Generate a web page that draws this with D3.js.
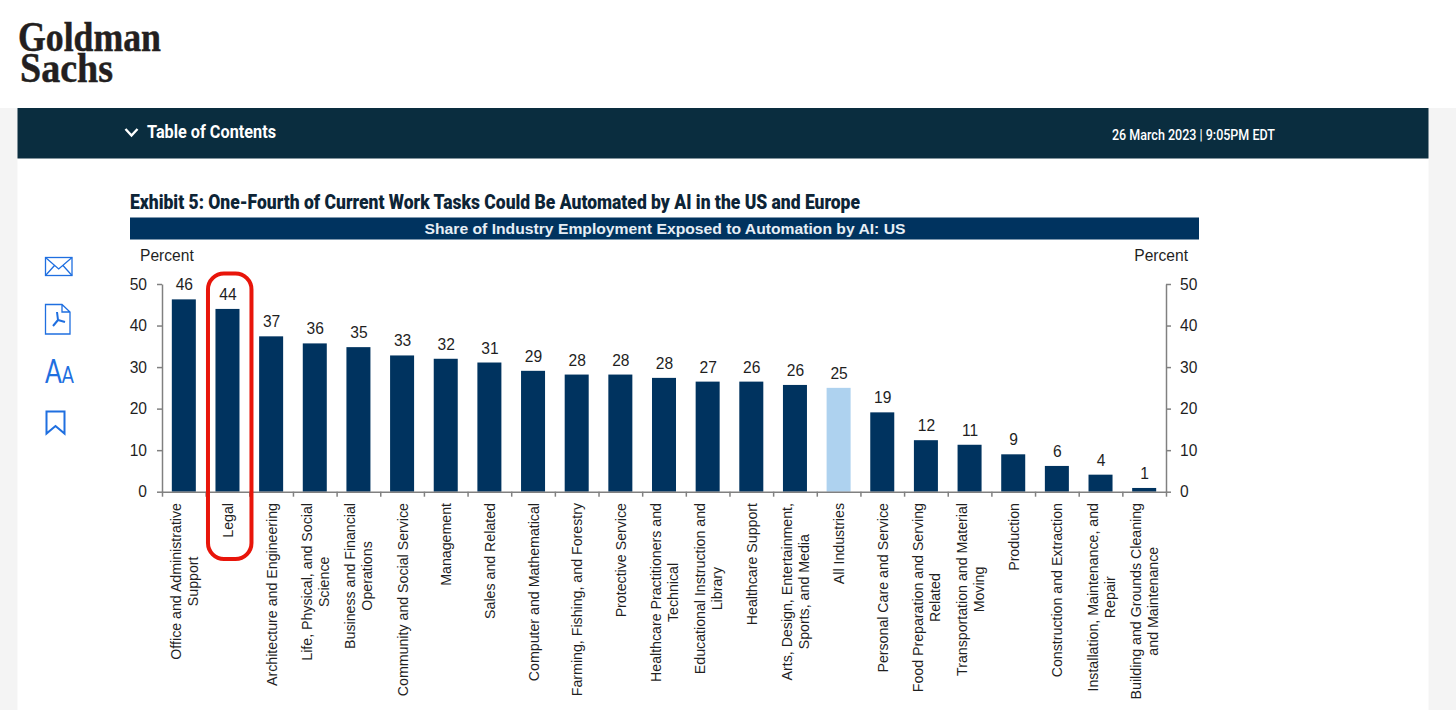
<!DOCTYPE html>
<html>
<head>
<meta charset="utf-8">
<title>Exhibit 5</title>
<script src="https://cdn.jsdelivr.net/npm/d3@7"></script>
<style>
    html, body { margin: 0; padding: 0; background: #fff; overflow: hidden; }
    svg { display: block; }
    text { font-family: "Liberation Sans", Arial, sans-serif; fill: #1f1f1f; }
    .page-text { font-family: Roboto, "Noto Sans", sans-serif; }
</style>
</head>
<body>
<div id="chart"></div>
<script>
// 1: DATA, "|" marks a line break in a label
const categories = [
    "Office and Administrative|Support", "Legal", "Architecture and Engineering",
    "Life, Physical, and Social|Science", "Business and Financial|Operations",
    "Community and Social Service", "Management", "Sales and Related",
    "Computer and Mathematical", "Farming, Fishing, and Forestry", "Protective Service",
    "Healthcare Practitioners and|Technical", "Educational Instruction and|Library",
    "Healthcare Support", "Arts, Design, Entertainment,|Sports, and Media", "All Industries",
    "Personal Care and Service", "Food Preparation and Serving|Related",
    "Transportation and Material|Moving", "Production", "Construction and Extraction",
    "Installation, Maintenance, and|Repair", "Building and Grounds Cleaning|and Maintenance"
];
const values = [46.3, 44.0, 37.4, 35.7, 34.8, 32.8, 32.0, 31.1, 29.1, 28.2, 28.2, 27.4,
    26.5, 26.5, 25.7, 25.0, 19.1, 12.4, 11.3, 9.0, 6.2, 4.1, 0.9];
const valueLabels = [46, 44, 37, 36, 35, 33, 32, 31, 29, 28, 28, 28, 27, 26, 26, 25, 19, 12, 11, 9, 6, 4, 1];
const yTicks = [0, 10, 20, 30, 40, 50];
const highlighted = "All Industries";
const circled = "Legal";

// 2: SVG AND PAGE FURNITURE
const svg = d3.select("#chart").append("svg").attr("width", 1456).attr("height", 710);

svg.append("rect").attr("x", 0).attr("y", 108).attr("width", 1456).attr("height", 602).attr("fill", "#f4f4f4");
svg.append("rect").attr("x", 17.5).attr("y", 158).attr("width", 1411).attr("height", 552).attr("fill", "#fff");
svg.append("rect").attr("x", 17.5).attr("y", 108).attr("width", 1411).attr("height", 50.5).attr("fill", "#0a2d3f");

// logo
svg.append("text").attr("x", 18).attr("y", 51)
    .attr("textLength", 143).attr("lengthAdjust", "spacingAndGlyphs")
    .style("font-family", "'Liberation Serif', serif").style("font-weight", "bold")
    .style("font-size", "42px").style("fill", "#231f20")
    .style("stroke", "#231f20").style("stroke-width", 0.5).text("Goldman");
svg.append("text").attr("x", 20).attr("y", 82)
    .attr("textLength", 93).attr("lengthAdjust", "spacingAndGlyphs")
    .style("font-family", "'Liberation Serif', serif").style("font-weight", "bold")
    .style("font-size", "42px").style("fill", "#231f20")
    .style("stroke", "#231f20").style("stroke-width", 0.5).text("Sachs");

// contents bar
svg.append("path").attr("d", "M125.5,129 L131.5,135.5 L137.5,129")
    .attr("fill", "none").attr("stroke", "#fff").attr("stroke-width", 2.4);
svg.append("text").attr("class", "page-text").attr("x", 147).attr("y", 137.5)
    .attr("textLength", 129).attr("lengthAdjust", "spacingAndGlyphs")
    .style("font-size", "18.5px").style("font-weight", "bold").style("fill", "#fff").text("Table of Contents");
svg.append("text").attr("class", "page-text").attr("x", 1112).attr("y", 139.5)
    .attr("textLength", 163).attr("lengthAdjust", "spacingAndGlyphs")
    .style("font-size", "15.5px").style("font-weight", 500).style("fill", "#fff").text("26 March 2023 | 9:05PM EDT");

// exhibit title and banner
svg.append("text").attr("class", "page-text").attr("x", 130).attr("y", 209)
    .attr("textLength", 730).attr("lengthAdjust", "spacingAndGlyphs")
    .style("font-size", "20px").style("font-weight", 900).style("fill", "#0d2436")
    .text("Exhibit 5: One-Fourth of Current Work Tasks Could Be Automated by AI in the US and Europe");
svg.append("rect").attr("x", 130).attr("y", 217.5).attr("width", 1069).attr("height", 22).attr("fill", "#00335f");
svg.append("text").attr("x", 424.5).attr("y", 234)
    .attr("textLength", 481).attr("lengthAdjust", "spacingAndGlyphs")
    .style("font-size", "15.5px").style("font-weight", "bold").style("fill", "#e6eef5")
    .text("Share of Industry Employment Exposed to Automation by AI: US");

// side icons
const iconBlue = "#1f6fe0";
const icons = svg.append("g").attr("fill", "none").attr("stroke", iconBlue).attr("stroke-width", 1.3);
icons.append("rect").attr("x", 45.5).attr("y", 257.5).attr("width", 26.5).attr("height", 18);
icons.append("path").attr("d", "M45.5,257.5 L58.7,269 L72,257.5 M45.5,275.5 L54.5,265.5 M72,275.5 L63,265.5");
icons.append("path").attr("d", "M45.5,304.5 H62 L70,312 V334 H45.5 Z M62,304.5 V312 H70");
icons.append("path").attr("d", "M57,312 L58,320 M58,320 L53,326 M58,320 L65,322").attr("stroke-width", 2);
icons.append("path").attr("d", "M46.5,411.5 H64.5 V433.5 L55.5,426 L46.5,433.5 Z").attr("stroke-width", 2);
const aaIcon = svg.append("text").attr("x", 45).attr("y", 383)
    .attr("textLength", 29).attr("lengthAdjust", "spacingAndGlyphs")
    .style("font-family", "Lato, sans-serif").style("font-weight", 400)
    .style("fill", iconBlue);
aaIcon.append("tspan").style("font-size", "32px").style("fill", iconBlue).text("A");
aaIcon.append("tspan").style("font-size", "23px").style("fill", iconBlue).text("A");

// 3: SCALES
const plot = { left: 162, right: 1166, top: 284, bottom: 491.7 };
const xScale = d3.scaleBand().domain(categories).range([plot.left, plot.right]).paddingInner(0.45).paddingOuter(0.225);
const xEdges = d3.scaleLinear().domain([0, categories.length]).range([plot.left, plot.right]);
const yScale = d3.scaleLinear().domain([0, 50]).range([plot.bottom, plot.top]);

// 4: BARS AND VALUE LABELS
svg.append("g").selectAll("rect")
    .data(categories)
    .enter().append("rect")
    .attr("x", d => xScale(d))
    .attr("y", (d, i) => yScale(values[i]))
    .attr("width", xScale.bandwidth())
    .attr("height", (d, i) => yScale(0) - yScale(values[i]))
    .attr("fill", d => d === highlighted ? "#aed2ef" : "#00335f");

svg.append("g").selectAll("text")
    .data(categories)
    .enter().append("text")
    .attr("x", d => xScale(d) + xScale.bandwidth() / 2 + 0.5)
    .attr("y", (d, i) => yScale(values[i]) - 9)
    .attr("text-anchor", "middle")
    .style("font-size", "15.6px")
    .text((d, i) => valueLabels[i]);

// 5: AXES
const axisColor = "#808080";
const axes = [
    svg.append("g").attr("transform", `translate(${plot.left},0)`)
        .call(d3.axisLeft(yScale).tickValues(yTicks).tickSize(5).tickSizeOuter(0).tickPadding(10)),
    svg.append("g").attr("transform", `translate(${plot.right},0)`)
        .call(d3.axisRight(yScale).tickValues(yTicks).tickSize(5).tickSizeOuter(0).tickPadding(9)),
    svg.append("g").attr("transform", `translate(0,${plot.bottom})`)
        .call(d3.axisBottom(xEdges).tickValues(d3.range(categories.length + 1)).tickFormat("").tickSize(5).tickSizeOuter(0))
];
axes.forEach(a => {
    a.selectAll("path, line").attr("stroke", axisColor).attr("stroke-width", 1.5);
    a.selectAll("text").style("font-family", "'Liberation Sans', Arial, sans-serif")
        .style("font-size", "15.6px").style("fill", "#1f1f1f");
});

svg.append("text").attr("x", 140).attr("y", 261).style("font-size", "15.6px").text("Percent");
svg.append("text").attr("x", 1188).attr("y", 261).attr("text-anchor", "end").style("font-size", "15.6px").text("Percent");

// 6: CATEGORY LABELS, rotated; every block starts just under the axis, its lines centred
const lineHeight = 17;
const labelTop = 503;
categories.forEach(c => {
    const lines = c.split("|");
    const cx = xScale(c) + xScale.bandwidth() / 2 + 0.5;
    const block = svg.append("g");
    const texts = block.selectAll("text")
        .data(lines)
        .enter().append("text")
        .attr("text-anchor", "middle")
        .attr("y", (d, i) => (i - (lines.length - 1) / 2) * lineHeight + 5)
        .style("font-size", "14.2px")
        .text(d => d);
    const longest = d3.max(texts.nodes(), n => n.getComputedTextLength());
    block.attr("transform", `translate(${cx},${labelTop + longest / 2}) rotate(-90)`);
});

// 7: RED HIGHLIGHT ROUND THE CIRCLED COLUMN
svg.append("rect")
    .attr("x", xScale(circled) + xScale.bandwidth() / 2 - 19.5)
    .attr("y", 273.5)
    .attr("width", 43.5)
    .attr("height", 285.5)
    .attr("rx", 16)
    .attr("fill", "none")
    .attr("stroke", "#e8150a")
    .attr("stroke-width", 4);
</script>
</body>
</html>
